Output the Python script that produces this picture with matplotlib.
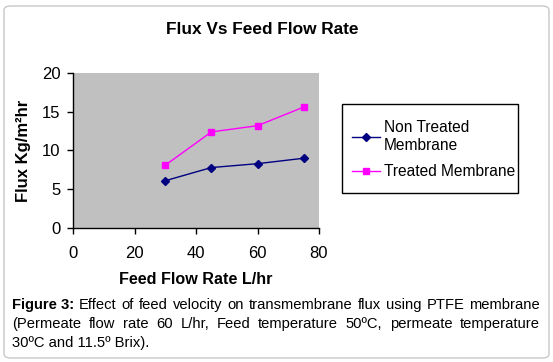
import matplotlib
matplotlib.use('Agg')
import matplotlib.pyplot as plt
from matplotlib.patches import FancyBboxPatch, Rectangle

plt.rcParams['font.family'] = ['Liberation Sans', 'DejaVu Sans']

# data
flow_rate = [30, 45, 60, 75]
flux_non_treated = [6.1, 7.8, 8.3, 9.0]
flux_treated = [8.1, 12.4, 13.2, 15.6]

x_ticks = [0, 20, 40, 60, 80]
y_ticks = [0, 5, 10, 15, 20]

caption_lines = [
    ['Effect', 'of', 'feed', 'velocity', 'on', 'transmembrane', 'flux', 'using', 'PTFE', 'membrane'],
    ['(Permeate', 'flow', 'rate', '60', 'L/hr,', 'Feed', 'temperature', '50ºC,', 'permeate', 'temperature'],
]
caption_last = '30ºC and 11.5º Brix).'

W, H = 553, 362
fig = plt.figure(figsize=(W / 100, H / 100), dpi=100)

# outer rounded frame
fig.patches.append(FancyBboxPatch((4 / W, 4 / H), 545 / W, 352 / H,
                                  boxstyle='round,pad=0,rounding_size=0.012',
                                  transform=fig.transFigure, facecolor='white',
                                  edgecolor='#c8c8c8', linewidth=1.0, zorder=-5))

ax = fig.add_axes([73 / W, 1 - 228 / H, 246 / W, 155 / H])
ax.set_facecolor('#c0c0c0')
ax.plot(flow_rate, flux_non_treated, color='#000080', marker='D', markersize=4,
        linewidth=1, label='Non Treated\nMembrane')
ax.plot(flow_rate, flux_treated, color='#ff00ff', marker='s', markersize=5,
        linewidth=1, label='Treated Membrane')
ax.set_xlim(0, 80)
ax.set_ylim(0, 20)
ax.set_xticks(x_ticks)
ax.set_yticks(y_ticks)
ax.tick_params(direction='out', length=4, width=1, labelsize=12, pad=5)
ax.tick_params(axis='x', pad=9)
for s in ['top', 'right']:
    ax.spines[s].set_visible(False)
for s in ['left', 'bottom']:
    ax.spines[s].set_linewidth(1)

ax.set_xlabel('Feed Flow Rate L/hr', fontsize=11.6, fontweight='bold', labelpad=8)
ax.set_ylabel('Flux Kg/m²hr', fontsize=12, fontweight='bold', labelpad=8)
fig.text(262 / W, 1 - 29 / H, 'Flux Vs Feed Flow Rate', fontsize=12.4,
         fontweight='bold', ha='center', va='center')

# legend box
fig.patches.append(Rectangle((342 / W, 1 - 193 / H), 176 / W, 89 / H,
                             transform=fig.transFigure, facecolor='white',
                             edgecolor='black', linewidth=1))
fig.legend(loc='upper left', bbox_to_anchor=(346 / W, 1 - 114 / H), frameon=False,
           fontsize=11.2, handlelength=1.8, handletextpad=0.25, labelspacing=0.75,
           borderaxespad=0)

# caption, justified
renderer = fig.canvas.get_renderer()
left, right = 12, 540
fs = 10.6
ys = [305, 324, 343]
for i, words in enumerate(caption_lines):
    items = []
    if i == 0:
        items.append(fig.text(0, 0, 'Figure 3:', fontsize=fs, fontweight='bold', va='center'))
    for w in words:
        items.append(fig.text(0, 0, w, fontsize=fs, va='center'))
    widths = [t.get_window_extent(renderer).width for t in items]
    gap = (right - left - sum(widths)) / (len(items) - 1)
    x = left
    for t, w in zip(items, widths):
        t.set_position((x / W, 1 - ys[i] / H))
        x += w + gap
fig.text(left / W, 1 - ys[2] / H, caption_last, fontsize=fs, va='center')

fig.savefig('out.png', dpi=100)
